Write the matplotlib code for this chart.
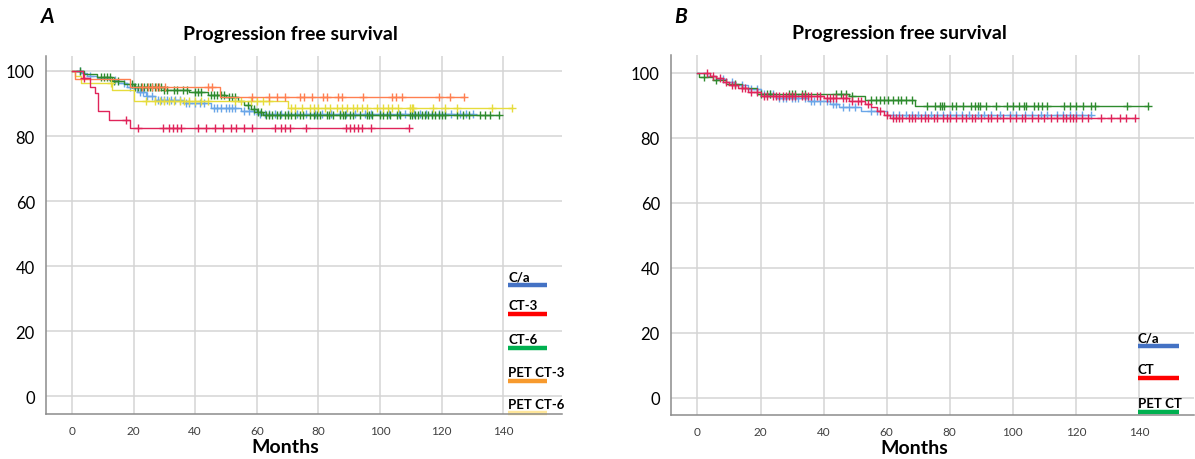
import numpy as np
import matplotlib
matplotlib.use("Agg")
import matplotlib.pyplot as plt

plt.rcParams['font.family'] = ['Lato', 'DejaVu Sans']

# ---- panel A: step times (months) and survival (%) after each step ----
ca_a_t = [3, 5, 8, 12, 15, 18, 21, 24, 27, 36, 45, 55, 60]
ca_a_s = [99.3, 98.6, 97.9, 97.1, 96.2, 95.0, 93.6, 92.2, 91.0, 90.2, 88.6, 87.7, 86.9]
ca_a_end = 130
ca_a_cens = [2.5, 6, 14, 17, 19, 20, 22, 23, 24.5, 26, 28, 29, 30, 31, 32, 33.5, 35, 37, 38, 40,
             41.5, 43, 46, 47, 48.5, 50, 51, 52, 53, 56, 57.5, 59, 61, 62.5, 64, 66, 68, 70, 73,
             76, 79, 81, 84, 87, 89, 92, 95, 97, 100, 103, 106, 108, 111, 113, 115, 117, 119,
             121, 123, 126, 128, 130]

ct3_t = [3.5, 6, 7.5, 8.5, 12, 19]
ct3_s = [97.8, 95.2, 93.1, 87.8, 85.0, 82.4]
ct3_end = 109.5
ct3_cens = [4, 17.5, 21.5, 29.7, 31.6, 32.8, 34.1, 35.3, 40.9, 43.4, 46.5, 49, 51.5, 53.4, 55.9,
            58.4, 65.9, 67.8, 69, 70.9, 75.9, 89, 90.2, 91.5, 92.7, 94, 97.1, 109.5]

ct6_t = [4, 8, 13, 17, 20, 30, 38, 44, 50, 54, 56, 58, 60, 62]
ct6_s = [99.2, 98.2, 97.0, 96.0, 95.0, 94.3, 93.4, 92.6, 92.0, 90.8, 89.6, 88.4, 87.3, 86.4]
ct6_end = 138.7
ct6_cens = [2.5, 9.5, 10.5, 11.5, 12.5, 13.5, 15, 19.5, 20.5, 21.5, 22.5, 23.5, 24.5, 25.5, 26,
            27, 28, 29, 30, 31, 33, 34, 36, 37.5, 40, 41, 42, 45, 46, 47, 48.5, 49.5, 51, 52, 53,
            57, 59, 60.5, 61.5, 63, 64, 65, 66.5, 67.5, 69, 70, 71, 72.5, 74, 75, 77.3, 78.5,
            79.5, 80.5, 82.7, 83.5, 84.8, 87, 88, 88.6, 90.3, 91.3, 93.5, 95.7, 96.5, 97.3, 100,
            101, 102.2, 103.2, 105.4, 106.5, 109.7, 110.5, 111.4, 112.4, 113.5, 114.5, 115.6,
            116.8, 117.9, 119, 120, 121.1, 124.9, 127, 128.7, 132.5, 134.1, 135.7, 138.7]

pet3_t = [1, 19, 48]
pet3_s = [97.6, 95.0, 92.0]
pet3_end = 127.1
pet3_cens = [22.8, 24.7, 25.9, 27.2, 28.4, 30.3, 44.1, 45.3, 58.4, 64, 66.5, 69, 74, 75.3, 77.8,
             81.5, 82.8, 86.5, 87.8, 94.6, 104, 105.3, 107.1, 119, 122.7, 127.1]

pet6_t = [1, 3, 13, 20, 70]
pet6_s = [98.6, 96.4, 94.3, 90.9, 88.5]
pet6_end = 142.8
pet6_cens = [12.8, 24, 27, 28.5, 30, 31.5, 33, 35, 36.5, 38, 40, 42, 44, 52.8, 55, 58, 60, 62,
             64, 71, 72.5, 74.6, 77.3, 78.4, 80, 82.1, 83.8, 85.9, 87.6, 89.2, 91.3, 92.4, 94,
             95.7, 98.9, 101.1, 102.7, 103.8, 105.9, 109.7, 110.3, 110.8, 117.3, 121.1, 124.9,
             136.3, 142.8]

# ---- panel B ----
ca_b_t = [3, 6, 9, 12, 16, 20, 25, 35, 42, 45, 52, 60]
ca_b_s = [99.2, 98.2, 97.2, 96.3, 95.0, 93.6, 92.2, 91.3, 90.4, 89.4, 88.4, 87.1]
ca_b_end = 124.8
ca_b_cens = [8, 11, 14, 17, 19, 21, 23, 24, 26, 27, 28, 30, 31, 32, 34, 36, 37, 39, 41, 43, 44,
             46, 48, 50, 55, 57, 62, 64, 66, 68, 70, 72, 74, 76, 78, 80, 82, 84, 86, 89, 91, 93,
             96, 99, 101, 104, 106, 109, 111, 114, 116, 118, 120, 122, 124.8]

ct_t = [4, 6, 8, 10, 13, 16, 20, 40, 48, 53, 55, 57, 59, 61]
ct_s = [99.2, 98.4, 97.3, 96.2, 95.3, 94.3, 93.0, 92.2, 91.5, 90.6, 89.6, 88.4, 87.2, 86.1]
ct_end = 138.7
ct_cens = [3, 5, 7, 9, 11, 12, 14, 15, 17, 19, 21, 22, 24, 25, 26, 27, 28, 29, 30, 31, 33, 34,
           35, 36, 38, 39, 41, 42, 43, 44, 46, 47, 49, 51, 52, 54, 58, 60, 62, 63, 64, 65, 67,
           68, 69, 71, 72, 73, 75, 76, 78, 79, 80, 82, 84, 85, 87, 88, 90, 92, 93, 95, 97, 99,
           101, 103, 104, 106, 108, 110, 112, 114, 116, 117, 118, 119, 120, 122, 124, 128, 131,
           134, 136, 138.7]

pet_t = [0.5, 5, 9, 14, 19, 48, 53, 69]
pet_s = [98.8, 97.8, 96.6, 95.4, 93.6, 92.8, 91.8, 89.9]
pet_end = 143
pet_cens = [2, 6, 12, 20, 22, 23, 29, 30, 31, 33, 34, 44, 45.5, 47, 49, 55, 56.5, 58, 59, 60.5,
            62, 63.5, 64.5, 66, 68, 72.8, 75.2, 77, 77.6, 78.2, 80.6, 81.9, 84.3, 86.7, 87.9,
            89.1, 89.7, 91.5, 94.6, 98.2, 100.1, 101.9, 103.7, 104.3, 106.7, 107.9, 109.1,
            110.9, 116.3, 118.1, 119.9, 122.4, 124.8, 126, 136.3, 143]

xticks = [0, 20, 40, 60, 80, 100, 120, 140]
yticks = [0, 20, 40, 60, 80, 100]


def km(ax, t, s, end, cens, color, z):
    x = np.r_[0, t, end]
    y = np.r_[100, s, s[-1]]
    ax.step(x, y, where='post', color=color, lw=1.0, zorder=z)
    idx = np.searchsorted(x, cens, side='right') - 1
    ax.plot(cens, y[idx], ls='none', marker='+', ms=5.5, mew=1.0, color=color, zorder=z)


def style(ax, xlim, ylim, title_x, label_x):
    ax.set_xlim(*xlim)
    ax.set_ylim(*ylim)
    ax.set_xticks(xticks)
    ax.set_yticks(yticks)
    ax.grid(True, color='#d4d4d4', lw=1.1)
    ax.set_axisbelow(True)
    for sp in ['top', 'right']:
        ax.spines[sp].set_visible(False)
    for sp in ['left', 'bottom']:
        ax.spines[sp].set_color('#8c8c8c')
        ax.spines[sp].set_linewidth(1.1)
    ax.tick_params(axis='both', length=0)
    ax.tick_params(axis='x', labelsize=8.5, colors='#404040', pad=8)
    ax.tick_params(axis='y', labelsize=12, pad=8)
    ax.set_xlabel('Months', fontsize=14, fontweight='bold')
    ax.xaxis.set_label_coords(label_x, -0.068)
    ax.set_title('Progression free survival', fontsize=14, fontweight='bold', pad=12, x=title_x)


def legend(ax, x0, x1, ys, names, colors):
    for y, n, c in zip(ys, names, colors):
        ax.plot([x0, x1], [y, y], transform=ax.transAxes, color=c, lw=3.2,
                solid_capstyle='butt', clip_on=False)
        ax.text(x0, y + 0.008, n, transform=ax.transAxes, fontsize=9.5, fontweight='bold',
                va='bottom', ha='left')


fig = plt.figure(figsize=(11.95, 4.6), dpi=100)
axA = fig.add_axes([0.0385, 0.098, 0.432, 0.778])
axB = fig.add_axes([0.5615, 0.096, 0.4375, 0.782])

km(axA, ca_a_t, ca_a_s, ca_a_end, ca_a_cens, '#6aa6e8', 2)
km(axA, ct6_t, ct6_s, ct6_end, ct6_cens, '#2e8b2e', 3)
km(axA, pet6_t, pet6_s, pet6_end, pet6_cens, '#e6dc3c', 4)
km(axA, pet3_t, pet3_s, pet3_end, pet3_cens, '#ff7f50', 5)
km(axA, ct3_t, ct3_s, ct3_end, ct3_cens, '#e0245a', 6)
style(axA, (-8.4, 159.1), (-5.5, 104.6), 0.473, 0.463)
legend(axA, 0.895, 0.971, [0.360, 0.279, 0.184, 0.092, 0.003],
       ['C/a', 'CT-3', 'CT-6', 'PET CT-3', 'PET CT-6'],
       ['#4472c4', '#ff0000', '#00b050', '#f79a2e', '#ffe699'])

km(axB, ca_b_t, ca_b_s, ca_b_end, ca_b_cens, '#6aa6e8', 2)
km(axB, pet_t, pet_s, pet_end, pet_cens, '#2e8b2e', 3)
km(axB, ct_t, ct_s, ct_end, ct_cens, '#e0245a', 4)
style(axB, (-8.4, 157.4), (-5.2, 105.5), 0.437, 0.466)
legend(axB, 0.893, 0.971, [0.190, 0.102, 0.008],
       ['C/a', 'CT', 'PET CT'],
       ['#4472c4', '#ff0000', '#00b050'])

fig.text(0.034, 0.963, 'A', fontsize=15, fontweight='bold', style='italic', va='center')
fig.text(0.564, 0.963, 'B', fontsize=15, fontweight='bold', style='italic', va='center')

fig.savefig('out.png', dpi=100)
